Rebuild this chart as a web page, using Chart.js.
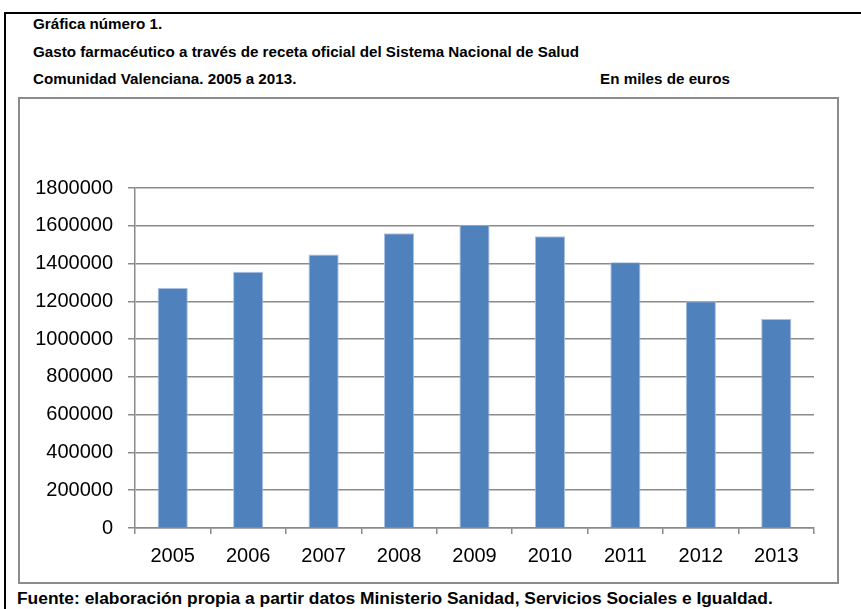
<!DOCTYPE html>
<html lang="es">
<head>
<meta charset="utf-8">
<title>Gasto farmacéutico</title>
<script src="https://cdn.jsdelivr.net/npm/chart.js@4"></script>
<style>
  body { margin: 0; background: #fff; font-family: "Liberation Sans", Arial, sans-serif; }
  .frame { position: absolute; left: 4px; top: 12px; width: 900px; height: 640px; border: 2px solid #000; box-sizing: border-box; }
  .txt { position: absolute; font-weight: bold; font-size: 15.2px; line-height: 18px; color: #000; white-space: nowrap; }
  .foot { font-size: 17.4px; line-height: 20px; }
  .box { position: absolute; left: 18px; top: 97px; width: 821px; height: 487px; border: 2px solid #8c8c8c; box-sizing: border-box; }
  .box canvas { display: block; }
</style>
</head>
<body>
<div class="frame"></div>
<div class="txt" style="left:33px; top:15px;">Gráfica número 1.</div>
<div class="txt" style="left:33px; top:43px;">Gasto farmacéutico a través de receta oficial del Sistema Nacional de Salud</div>
<div class="txt" style="left:33px; top:70px;">Comunidad Valenciana. 2005 a 2013.</div>
<div class="txt" style="left:600px; top:70px;">En miles de euros</div>
<div class="box"><canvas id="gastoChart" width="817" height="483"></canvas></div>
<div class="txt foot" style="left:17px; top:588px;">Fuente: elaboración propia a partir datos Ministerio Sanidad, Servicios Sociales e Igualdad.</div>

<script>
// años y gasto (miles de euros)
const years = ['2005', '2006', '2007', '2008', '2009', '2010', '2011', '2012', '2013'];
const gasto = [1271000, 1356000, 1448000, 1560000, 1605000, 1545000, 1407000, 1201000, 1107000];
const yMin = 0;
const yMax = 1800000;
const yStep = 200000;

const gridGray = '#8a8a8a';

const ctx = document.getElementById('gastoChart').getContext('2d');

const gastoChart = new Chart(ctx, {
  type: 'bar',
  data: {
    labels: years,
    datasets: [{
      label: 'Gasto',
      data: gasto,
      backgroundColor: '#4f81bd',
      borderColor: '#a9c1df',
      borderWidth: 1,
      barPercentage: 0.4,
      categoryPercentage: 1
    }]
  },
  options: {
    responsive: false,
    animation: false,
    layout: { padding: { top: 89, right: 23, left: 0, bottom: 0 } },
    plugins: {
      legend: { display: false },
      tooltip: { enabled: false }
    },
    scales: {
      y: {
        min: yMin,
        max: yMax,
        ticks: {
          stepSize: yStep,
          color: '#000',
          padding: 15,
          font: { family: 'Liberation Sans', size: 20 },
          callback: (v) => String(v)   // sin separador de miles
        },
        grid: { color: gridGray, lineWidth: 1.5, tickLength: 7 },
        border: { color: gridGray, width: 1.5 },
        afterFit: (s) => { s.width = 115; }
      },
      x: {
        ticks: {
          color: '#000',
          padding: 10,
          font: { family: 'Liberation Sans', size: 20 }
        },
        grid: { drawOnChartArea: false, color: gridGray, lineWidth: 1.5, tickLength: 6 },
        border: { color: gridGray, width: 1.5 },
        afterFit: (s) => { s.height = 54; }
      }
    }
  }
});
</script>
</body>
</html>
